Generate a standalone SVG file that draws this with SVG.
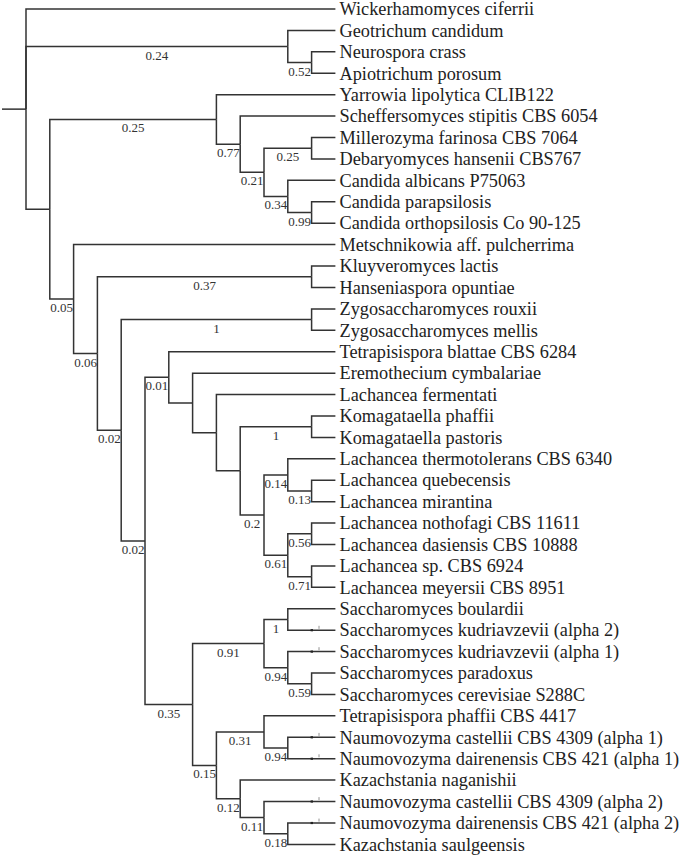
<svg xmlns="http://www.w3.org/2000/svg" width="685" height="856" viewBox="0 0 685 856">
<style>
.br{fill:none;stroke:#333;stroke-width:1.5;stroke-linejoin:miter}
.tk{stroke:#777;stroke-width:0.8}
.dt{fill:#222}
.lf{font-family:"Liberation Serif","Times New Roman",serif;font-size:18.3px;fill:#222}
.bl{font-family:"Liberation Serif","Times New Roman",serif;font-size:13px;fill:#333;text-anchor:middle}
</style>
<rect width="685" height="856" fill="#fff"/>
<g id="connectors">
<path class="br" d="M2,109.13 H26"/>
<path class="br" d="M26,109.13 V9 H335.4"/>
<path class="br" d="M26,109.13 V46.49 H287.8"/>
<path class="br" d="M26,109.13 V209.26 H49.8"/>
<path class="br" d="M287.8,46.49 V30.42 H335.4"/>
<path class="br" d="M287.8,46.49 V62.55 H311.6"/>
<path class="br" d="M311.6,62.55 V51.84 H335.4"/>
<path class="br" d="M311.6,62.55 V73.26 H335.4"/>
<path class="br" d="M49.8,209.26 V119.45 H216.4"/>
<path class="br" d="M49.8,209.26 V299.06 H73.6"/>
<path class="br" d="M216.4,119.45 V94.68 H335.4"/>
<path class="br" d="M216.4,119.45 V144.21 H240.2"/>
<path class="br" d="M240.2,144.21 V116.1 H335.4"/>
<path class="br" d="M240.2,144.21 V172.33 H264"/>
<path class="br" d="M264,172.33 V148.23 H311.6"/>
<path class="br" d="M264,172.33 V196.43 H287.8"/>
<path class="br" d="M311.6,148.23 V137.52 H335.4"/>
<path class="br" d="M311.6,148.23 V158.94 H335.4"/>
<path class="br" d="M287.8,196.43 V180.36 H335.4"/>
<path class="br" d="M287.8,196.43 V212.49 H311.6"/>
<path class="br" d="M311.6,212.49 V201.78 H335.4"/>
<path class="br" d="M311.6,212.49 V223.2 H335.4"/>
<path class="br" d="M73.6,299.06 V244.62 H335.4"/>
<path class="br" d="M73.6,299.06 V353.5 H97.4"/>
<path class="br" d="M97.4,353.5 V276.75 H311.6"/>
<path class="br" d="M97.4,353.5 V430.25 H121.2"/>
<path class="br" d="M311.6,276.75 V266.04 H335.4"/>
<path class="br" d="M311.6,276.75 V287.46 H335.4"/>
<path class="br" d="M121.2,430.25 V319.59 H311.6"/>
<path class="br" d="M121.2,430.25 V540.91 H145"/>
<path class="br" d="M311.6,319.59 V308.88 H335.4"/>
<path class="br" d="M311.6,319.59 V330.3 H335.4"/>
<path class="br" d="M145,540.91 V377.33 H168.8"/>
<path class="br" d="M145,540.91 V704.49 H192.6"/>
<path class="br" d="M168.8,377.33 V351.72 H335.4"/>
<path class="br" d="M168.8,377.33 V402.93 H192.6"/>
<path class="br" d="M192.6,402.93 V373.14 H335.4"/>
<path class="br" d="M192.6,402.93 V432.72 H216.4"/>
<path class="br" d="M216.4,432.72 V394.56 H335.4"/>
<path class="br" d="M216.4,432.72 V470.87 H240.2"/>
<path class="br" d="M240.2,470.87 V426.69 H311.6"/>
<path class="br" d="M240.2,470.87 V515.05 H264"/>
<path class="br" d="M311.6,426.69 V415.98 H335.4"/>
<path class="br" d="M311.6,426.69 V437.4 H335.4"/>
<path class="br" d="M264,515.05 V474.89 H287.8"/>
<path class="br" d="M264,515.05 V555.21 H287.8"/>
<path class="br" d="M287.8,474.89 V458.82 H335.4"/>
<path class="br" d="M287.8,474.89 V490.95 H311.6"/>
<path class="br" d="M311.6,490.95 V480.24 H335.4"/>
<path class="br" d="M311.6,490.95 V501.66 H335.4"/>
<path class="br" d="M287.8,555.21 V533.79 H311.6"/>
<path class="br" d="M287.8,555.21 V576.63 H311.6"/>
<path class="br" d="M311.6,533.79 V523.08 H335.4"/>
<path class="br" d="M311.6,533.79 V544.5 H335.4"/>
<path class="br" d="M311.6,576.63 V565.92 H335.4"/>
<path class="br" d="M311.6,576.63 V587.34 H335.4"/>
<path class="br" d="M192.6,704.49 V643.57 H264"/>
<path class="br" d="M192.6,704.49 V765.4 H216.4"/>
<path class="br" d="M264,643.57 V619.47 H287.8"/>
<path class="br" d="M264,643.57 V667.67 H287.8"/>
<path class="br" d="M287.8,619.47 V608.76 H335.4"/>
<path class="br" d="M287.8,619.47 V630.18 H335.4"/>
<path class="br" d="M287.8,667.67 V651.6 H335.4"/>
<path class="br" d="M287.8,667.67 V683.73 H311.6"/>
<path class="br" d="M311.6,683.73 V673.02 H335.4"/>
<path class="br" d="M311.6,683.73 V694.44 H335.4"/>
<path class="br" d="M216.4,765.4 V731.93 H264"/>
<path class="br" d="M216.4,765.4 V798.87 H240.2"/>
<path class="br" d="M264,731.93 V715.86 H335.4"/>
<path class="br" d="M264,731.93 V747.99 H287.8"/>
<path class="br" d="M287.8,747.99 V737.28 H335.4"/>
<path class="br" d="M287.8,747.99 V758.7 H335.4"/>
<path class="br" d="M240.2,798.87 V780.12 H335.4"/>
<path class="br" d="M240.2,798.87 V817.61 H264"/>
<path class="br" d="M264,817.61 V801.54 H335.4"/>
<path class="br" d="M264,817.61 V833.67 H287.8"/>
<path class="br" d="M287.8,833.67 V822.96 H335.4"/>
<path class="br" d="M287.8,833.67 V844.38 H335.4"/>
<g id="ticks">
<rect class="dt" x="310.6" y="629.1" width="2.4" height="2.2"/><line class="tk" x1="319" y1="625.8" x2="319" y2="628.8"/>
<rect class="dt" x="310.6" y="650.5" width="2.4" height="2.2"/><line class="tk" x1="319" y1="647.2" x2="319" y2="650.2"/>
<rect class="dt" x="310.6" y="736.2" width="2.4" height="2.2"/><line class="tk" x1="319" y1="732.9" x2="319" y2="735.9"/>
<rect class="dt" x="310.6" y="757.6" width="2.4" height="2.2"/><line class="tk" x1="319" y1="754.3" x2="319" y2="757.3"/>
<rect class="dt" x="310.6" y="800.4" width="2.4" height="2.2"/><line class="tk" x1="319" y1="797.1" x2="319" y2="800.1"/>
<rect class="dt" x="310.6" y="821.9" width="2.4" height="2.2"/><line class="tk" x1="319" y1="818.6" x2="319" y2="821.6"/>
</g>
</g>
<g id="support-labels">
<g id="n-A"><text class="bl" x="156.9" y="59.5">0.24</text></g>
<g id="n-A1"><text class="bl" x="299.7" y="75.55">0.52</text></g>
<g id="n-C"><text class="bl" x="133.1" y="132.45">0.25</text></g>
<g id="n-C1"><text class="bl" x="228.3" y="157.2">0.77</text></g>
<g id="n-C2"><text class="bl" x="252.1" y="185.3">0.21</text></g>
<g id="n-C3"><text class="bl" x="287.8" y="161.2">0.25</text></g>
<g id="n-C4"><text class="bl" x="275.9" y="209.4">0.34</text></g>
<g id="n-C5"><text class="bl" x="299.7" y="225.5">0.99</text></g>
<g id="n-D"><text class="bl" x="61.7" y="312.1">0.05</text></g>
<g id="n-E"><text class="bl" x="85.5" y="366.5">0.06</text></g>
<g id="n-F"><text class="bl" x="204.5" y="289.75">0.37</text></g>
<g id="n-G"><text class="bl" x="109.3" y="443.25">0.02</text></g>
<g id="n-H"><text class="bl" x="216.4" y="332.6">1</text></g>
<g id="n-I"><text class="bl" x="133.1" y="553.9">0.02</text></g>
<g id="n-J"><text class="bl" x="156.9" y="390.3">0.01</text></g>
<g id="n-J4"><text class="bl" x="275.9" y="439.7">1</text></g>
<g id="n-J5"><text class="bl" x="252.1" y="528.05">0.2</text></g>
<g id="n-J6"><text class="bl" x="275.9" y="487.9">0.14</text></g>
<g id="n-J8"><text class="bl" x="299.7" y="503.95">0.13</text></g>
<g id="n-J7"><text class="bl" x="275.9" y="568.2">0.61</text></g>
<g id="n-J9"><text class="bl" x="299.7" y="546.8">0.56</text></g>
<g id="n-J10"><text class="bl" x="299.7" y="589.6">0.71</text></g>
<g id="n-K"><text class="bl" x="168.8" y="717.5">0.35</text></g>
<g id="n-M"><text class="bl" x="228.3" y="656.6">0.91</text></g>
<g id="n-M1"><text class="bl" x="275.9" y="632.5">1</text></g>
<g id="n-M2"><text class="bl" x="275.9" y="680.7">0.94</text></g>
<g id="n-M3"><text class="bl" x="299.7" y="696.7">0.59</text></g>
<g id="n-N"><text class="bl" x="204.5" y="778.4">0.15</text></g>
<g id="n-O"><text class="bl" x="240.2" y="744.9">0.31</text></g>
<g id="n-O1"><text class="bl" x="275.9" y="761">0.94</text></g>
<g id="n-P"><text class="bl" x="228.3" y="811.9">0.12</text></g>
<g id="n-Q"><text class="bl" x="252.1" y="830.6">0.11</text></g>
<g id="n-Q1"><text class="bl" x="275.9" y="846.7">0.18</text></g>
</g>
<g id="leaves">
<g id="leaf-0"><text class="lf" x="339.5" y="15.2">Wickerhamomyces ciferrii</text></g>
<g id="leaf-1"><text class="lf" x="339.5" y="36.6">Geotrichum candidum</text></g>
<g id="leaf-2"><text class="lf" x="339.5" y="58">Neurospora crass</text></g>
<g id="leaf-3"><text class="lf" x="339.5" y="79.5">Apiotrichum porosum</text></g>
<g id="leaf-4"><text class="lf" x="339.5" y="100.9">Yarrowia lipolytica CLIB122</text></g>
<g id="leaf-5"><text class="lf" x="339.5" y="122.3">Scheffersomyces stipitis CBS 6054</text></g>
<g id="leaf-6"><text class="lf" x="339.5" y="143.7">Millerozyma farinosa CBS 7064</text></g>
<g id="leaf-7"><text class="lf" x="339.5" y="165.1">Debaryomyces hansenii CBS767</text></g>
<g id="leaf-8"><text class="lf" x="339.5" y="186.6">Candida albicans P75063</text></g>
<g id="leaf-9"><text class="lf" x="339.5" y="208">Candida parapsilosis</text></g>
<g id="leaf-10"><text class="lf" x="339.5" y="229.4">Candida orthopsilosis Co 90-125</text></g>
<g id="leaf-11"><text class="lf" x="339.5" y="250.8">Metschnikowia aff. pulcherrima</text></g>
<g id="leaf-12"><text class="lf" x="339.5" y="272.2">Kluyveromyces lactis</text></g>
<g id="leaf-13"><text class="lf" x="339.5" y="293.7">Hanseniaspora opuntiae</text></g>
<g id="leaf-14"><text class="lf" x="339.5" y="315.1">Zygosaccharomyces rouxii</text></g>
<g id="leaf-15"><text class="lf" x="339.5" y="336.5">Zygosaccharomyces mellis</text></g>
<g id="leaf-16"><text class="lf" x="339.5" y="357.9">Tetrapisispora blattae CBS 6284</text></g>
<g id="leaf-17"><text class="lf" x="339.5" y="379.3">Eremothecium cymbalariae</text></g>
<g id="leaf-18"><text class="lf" x="339.5" y="400.8">Lachancea fermentati</text></g>
<g id="leaf-19"><text class="lf" x="339.5" y="422.2">Komagataella phaffii</text></g>
<g id="leaf-20"><text class="lf" x="339.5" y="443.6">Komagataella pastoris</text></g>
<g id="leaf-21"><text class="lf" x="339.5" y="465">Lachancea thermotolerans CBS 6340</text></g>
<g id="leaf-22"><text class="lf" x="339.5" y="486.4">Lachancea quebecensis</text></g>
<g id="leaf-23"><text class="lf" x="339.5" y="507.9">Lachancea mirantina</text></g>
<g id="leaf-24"><text class="lf" x="339.5" y="529.3">Lachancea nothofagi CBS 11611</text></g>
<g id="leaf-25"><text class="lf" x="339.5" y="550.7">Lachancea dasiensis CBS 10888</text></g>
<g id="leaf-26"><text class="lf" x="339.5" y="572.1">Lachancea sp. CBS 6924</text></g>
<g id="leaf-27"><text class="lf" x="339.5" y="593.5">Lachancea meyersii CBS 8951</text></g>
<g id="leaf-28"><text class="lf" x="339.5" y="615">Saccharomyces boulardii</text></g>
<g id="leaf-29"><text class="lf" x="339.5" y="636.4">Saccharomyces kudriavzevii (alpha 2)</text></g>
<g id="leaf-30"><text class="lf" x="339.5" y="657.8">Saccharomyces kudriavzevii (alpha 1)</text></g>
<g id="leaf-31"><text class="lf" x="339.5" y="679.2">Saccharomyces paradoxus</text></g>
<g id="leaf-32"><text class="lf" x="339.5" y="700.6">Saccharomyces cerevisiae S288C</text></g>
<g id="leaf-33"><text class="lf" x="339.5" y="722.1">Tetrapisispora phaffii CBS 4417</text></g>
<g id="leaf-34"><text class="lf" x="339.5" y="743.5">Naumovozyma castellii CBS 4309 (alpha 1)</text></g>
<g id="leaf-35"><text class="lf" x="339.5" y="764.9">Naumovozyma dairenensis CBS 421 (alpha 1)</text></g>
<g id="leaf-36"><text class="lf" x="339.5" y="786.3">Kazachstania naganishii</text></g>
<g id="leaf-37"><text class="lf" x="339.5" y="807.7">Naumovozyma castellii CBS 4309 (alpha 2)</text></g>
<g id="leaf-38"><text class="lf" x="339.5" y="829.2">Naumovozyma dairenensis CBS 421 (alpha 2)</text></g>
<g id="leaf-39"><text class="lf" x="339.5" y="850.6">Kazachstania saulgeensis</text></g>
</g>
</svg>
